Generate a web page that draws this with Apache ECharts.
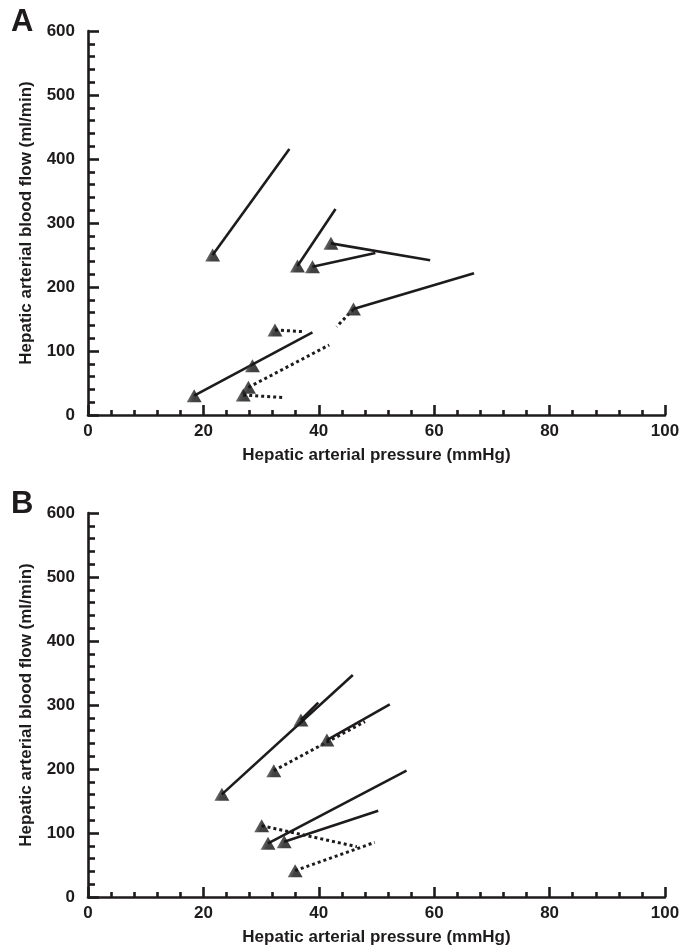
<!DOCTYPE html>
<html>
<head>
<meta charset="utf-8">
<script src="https://cdn.jsdelivr.net/npm/echarts@6/dist/echarts.min.js"></script>
<style>
html,body{margin:0;padding:0;background:#fff;}
#chart{width:692px;height:950px;}
</style>
</head>
<body>
<div id="chart"></div>
<script>
// ---- Data ----
const xName = 'Hepatic arterial pressure (mmHg)';
const yName = 'Hepatic arterial blood flow (ml/min)';
const panelLabels = ['A', 'B'];

// Panel A
const aTriangles = [[21.6,250],[36.3,232.8],[38.9,231.8],[42.1,268.2],[46.0,165.6],[32.4,132.8],[28.5,77.1],[27.8,43.2],[26.9,31.2],[18.4,30.2]];
const aSolid = [
  [[21.6,250],[34.9,415.6]],
  [[36.3,232.8],[42.9,321.9]],
  [[38.9,231.8],[49.8,253.1]],
  [[42.1,268.2],[59.3,241.7]],
  [[46.0,165.6],[66.9,221.4]],
  [[18.4,30.2],[38.9,129.2]]
];
const aDotted = [
  [[46.0,165.6],[43.1,138]],
  [[32.4,132.8],[37.4,130.2]],
  [[27.8,43.2],[41.8,109.4]],
  [[26.9,31.2],[34.1,27.1]]
];

// Panel B
const bTriangles = [[23.2,160.4],[36.9,276.6],[41.4,245.3],[32.2,197.4],[30.1,111.4],[31.2,83.9],[34.0,86.4],[35.9,41.1]];
const bSolid = [
  [[23.2,160.4],[45.9,346.9]],
  [[36.9,276.6],[39.9,303.6]],
  [[41.4,245.3],[52.3,301]],
  [[31.2,83.9],[55.2,197.4]],
  [[34.0,86.4],[50.3,134.8]]
];
const bDotted = [
  [[32.2,197.4],[48.0,274]],
  [[30.1,111.4],[46.6,78.6]],
  [[35.9,41.1],[49.7,85.4]]
];

const xMin = 0, xMax = 100, xStep = 20;
const yMin = 0, yMax = 600, yStep = 100;

// ---- Chart ----
const chart = echarts.init(document.getElementById('chart'), null, {renderer:'canvas'});
const FONT = '"Liberation Sans", Arial, Helvetica, sans-serif';
const INK = '#1e1b1c';

function xAxisOpt(gi){
  return {
    gridIndex: gi, type:'value', min:xMin, max:xMax, interval:xStep,
    name: xName, nameLocation:'middle', nameGap:32,
    nameTextStyle:{fontFamily:FONT, fontWeight:'bold', fontSize:17, color:INK},
    axisLine:{show:true, onZero:false, lineStyle:{color:INK, width:2.6}},
    axisTick:{show:true, inside:true, length:10, lineStyle:{color:INK, width:2.6}},
    minorTick:{show:true, splitNumber:5, length:5, lineStyle:{color:INK, width:2.6}},
    axisLabel:{margin:8, fontFamily:FONT, fontWeight:'bold', fontSize:17, color:INK},
    splitLine:{show:false}, minorSplitLine:{show:false}
  };
}
function yAxisOpt(gi){
  return {
    gridIndex: gi, type:'value', min:yMin, max:yMax, interval:yStep,
    name: yName, nameLocation:'middle', nameGap:53, nameRotate:90,
    nameTextStyle:{fontFamily:FONT, fontWeight:'bold', fontSize:17, color:INK},
    axisLine:{show:true, onZero:false, lineStyle:{color:INK, width:2.6}},
    axisTick:{show:true, inside:true, length:11, lineStyle:{color:INK, width:2.6}},
    minorTick:{show:true, splitNumber:5, length:7, lineStyle:{color:INK, width:2.6}},
    axisLabel:{margin:13, fontFamily:FONT, fontWeight:'bold', fontSize:17, color:INK},
    splitLine:{show:false}, minorSplitLine:{show:false}
  };
}

const triColor = new echarts.graphic.LinearGradient(0,0,1,0.3,[
  {offset:0, color:'#a0a0a0'},
  {offset:0.4, color:'#333333'},
  {offset:0.6, color:'#141414'},
  {offset:1, color:'#0f0f0f'}
]);

const series = [];
function addSegments(list, gi, dotted){
  list.forEach(seg => {
    series.push({
      type:'line', xAxisIndex:gi, yAxisIndex:gi, data:seg,
      showSymbol:false, symbol:'none', silent:true, z:2,
      lineStyle:{color:INK, width: dotted ? 3 : 2.6, type: dotted ? [3,3] : 'solid', cap:'butt'}
    });
  });
}
addSegments(aSolid, 0, false);
addSegments(aDotted, 0, true);
addSegments(bSolid, 1, false);
addSegments(bDotted, 1, true);
[aTriangles, bTriangles].forEach((tri, gi) => {
  series.push({
    type:'scatter', xAxisIndex:gi, yAxisIndex:gi, data:tri,
    symbol:'triangle', symbolSize:[15,13], z:5,
    itemStyle:{color:triColor, borderWidth:0}
  });
});

const option = {
  animation:false,
  backgroundColor:'#ffffff',
  grid:[
    {left:88, top:31, width:577, height:384},
    {left:88, top:513, width:577, height:384}
  ],
  xAxis:[xAxisOpt(0), xAxisOpt(1)],
  yAxis:[yAxisOpt(0), yAxisOpt(1)],
  graphic:[
    {type:'text', left:11, top:7, style:{text:panelLabels[0], fontFamily:FONT, fontWeight:'bold', fontSize:31, fill:INK}},
    {type:'text', left:11, top:489, style:{text:panelLabels[1], fontFamily:FONT, fontWeight:'bold', fontSize:31, fill:INK}}
  ],
  series: series
};
chart.setOption(option);
</script>
</body>
</html>
